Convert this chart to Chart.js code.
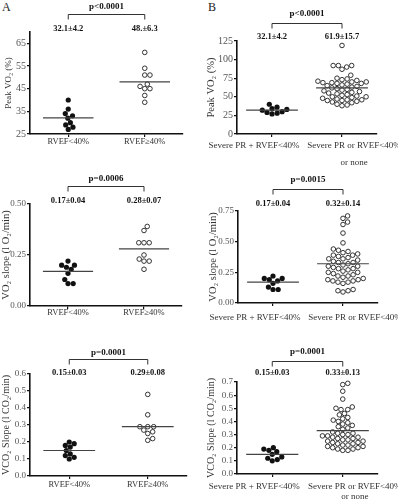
<!DOCTYPE html>
<html>
<head>
<meta charset="utf-8">
<script src="https://cdn.jsdelivr.net/npm/chart.js@4.4.0/dist/chart.umd.min.js"></script>
<style>
  body { margin: 0; background: #fff; }
  #wrap { position: relative; width: 398px; height: 500px; overflow: hidden; }
  #wrap canvas { position: absolute; }
  .letter { position: absolute; font: 12px "Liberation Serif", serif; color: #222; line-height: 12px; }
</style>
</head>
<body>
<div id="wrap">
  <div class="letter" style="left:2px;top:1px">A</div>
  <div class="letter" style="left:208px;top:1px">B</div>
</div>
<script>
// Gruppen (x-Kategorien)
const catsA = ['RVEF<40%', 'RVEF≥40%'];
const catsB = [['Severe PR + RVEF<40%'], ['Severe PR or RVEF<40%', 'or none']];

// Peak VO2 (%)
const peakLowA = [40, 36, 34, 33, 32, 30, 29, 28, 27];
const peakHighA = [61, 54, 51, 51, 47, 46, 45, 45, 42, 39];
const peakMeanA = [32.1, 48.0];
const peakTextA = ['32.1±4.2', '48.±6.3'];
const peakTicksA = [25, 35, 45, 55, 65];

const peakLowB = [40, 36, 34, 33, 32, 30, 29, 28, 27];
const peakHighB = [119, 92, 92, 90, 92, 87, 79, 75, 74, 73, 72, 71, 70, 70, 69, 69, 68, 68, 67, 66,
  65, 64, 63, 62, 61, 60, 59, 58, 57, 56, 55, 54, 53, 52, 51, 50, 50, 49, 48, 47,
  46, 46, 45, 45, 44, 43, 42, 40, 39, 38];
const peakMeanB = [32.1, 61.9];
const peakTextB = ['32.1±4.2', '61.9±15.7'];
const peakTicksB = [0, 25, 50, 75, 100, 125];

// VO2 slope (l O2/min)
const vo2LowA = [0.22, 0.20, 0.20, 0.19, 0.18, 0.16, 0.13, 0.11, 0.11];
const vo2HighA = [0.39, 0.37, 0.31, 0.31, 0.31, 0.25, 0.23, 0.22, 0.22, 0.18];
const vo2MeanA = [0.17, 0.28];
const vo2TextA = ['0.17±0.04', '0.28±0.07'];
const vo2TicksA = [0, 0.25, 0.5];

const vo2LowB = [0.22, 0.20, 0.20, 0.19, 0.18, 0.16, 0.13, 0.11, 0.11];
const vo2HighB = [0.71, 0.69, 0.66, 0.64, 0.57, 0.49, 0.44, 0.43, 0.42, 0.41, 0.40, 0.39, 0.39, 0.38,
  0.37, 0.36, 0.36, 0.35, 0.34, 0.33, 0.33, 0.32, 0.31, 0.30, 0.30, 0.29, 0.28, 0.28, 0.27, 0.26,
  0.25, 0.25, 0.24, 0.23, 0.22, 0.22, 0.21, 0.20, 0.19, 0.19, 0.18, 0.18, 0.17, 0.17, 0.16,
  0.11, 0.10, 0.10, 0.09];
const vo2MeanB = [0.17, 0.32];
const vo2TextB = ['0.17±0.04', '0.32±0.14'];
const vo2TicksB = [0, 0.25, 0.5, 0.75];

// VCO2 slope (l CO2/min)
const vco2LowA = [0.20, 0.19, 0.18, 0.17, 0.15, 0.13, 0.12, 0.11, 0.10];
const vco2HighA = [0.48, 0.36, 0.29, 0.29, 0.29, 0.27, 0.26, 0.25, 0.22, 0.21];
const vco2MeanA = [0.15, 0.29];
const vco2TextA = ['0.15±0.03', '0.29±0.08'];
const vco2TicksA = [0, 0.1, 0.2, 0.3, 0.4, 0.5, 0.6];

const vco2LowB = [0.20, 0.19, 0.18, 0.17, 0.15, 0.13, 0.12, 0.11, 0.10];
const vco2HighB = [0.69, 0.68, 0.63, 0.57, 0.51, 0.50, 0.49, 0.49, 0.46, 0.45, 0.43, 0.42, 0.41,
  0.40, 0.39, 0.38, 0.37, 0.36, 0.35, 0.34, 0.32, 0.31, 0.31, 0.30, 0.30, 0.29, 0.29, 0.28, 0.28,
  0.27, 0.27, 0.26, 0.26, 0.25, 0.25, 0.24, 0.24, 0.23, 0.23, 0.22, 0.22, 0.21, 0.21, 0.20, 0.20,
  0.19, 0.19, 0.18, 0.18];
const vco2MeanB = [0.15, 0.33];
const vco2TextB = ['0.15±0.03', '0.33±0.13'];
const vco2TicksB = [0, 0.1, 0.2, 0.3, 0.4, 0.5, 0.6, 0.7];

const pValues = ['p<0.0001', 'p=0.0006', 'p=0.0001', 'p<0.0001', 'p=0.0015', 'p=0.0001'];

const SERIF = '"Liberation Serif", "Times New Roman", serif';
const DIAM = 5.2;

// Panels: box = Canvas [x, y, w, h], area = Plotfläche [left, top, right, bottom] (Seitenkoordinaten)
const panels = [
  { box: [0, 0, 198, 165], area: [30, 32, 183, 134], yMin: 25, yMax: 70, ticks: peakTicksA, dec: 0,
    title: 'Peak VO₂ (%)', titleX: 9, titleSize: 9, tickSize: 10,
    low: peakLowA, high: peakHighA, means: peakMeanA, texts: peakTextA, p: pValues[0], cats: catsA,
    pOff: -25, brOff: -18, lblOff: -3, catOff: 8, catGap: 0, catShift: [0, 0], catSize: 8.5, meanHalf: 0.33 },
  { box: [198, 0, 200, 165], area: [237, 41, 377, 134], yMin: 0, yMax: 125, ticks: peakTicksB, dec: 0,
    title: 'Peak VO₂ (%)', titleX: 211, titleSize: 10.5, tickSize: 10,
    low: peakLowB, high: peakHighB, means: peakMeanB, texts: peakTextB, p: pValues[3], cats: catsB,
    pOff: -27, brOff: -18, lblOff: -4, catOff: 12, catGap: 17, catShift: [-18, 12], catSize: 9, meanHalf: 0.37 },
  { box: [0, 165, 198, 165], area: [30, 204, 182, 306], yMin: 0, yMax: 0.5, ticks: vo2TicksA, dec: 2,
    title: 'VO₂ slope (l O₂/min)', titleX: 6, titleSize: 10.5, tickSize: 9,
    low: vo2LowA, high: vo2HighA, means: vo2MeanA, texts: vo2TextA, p: pValues[1], cats: catsA,
    pOff: -25, brOff: -18, lblOff: -3, catOff: 7, catGap: 0, catShift: [0, 0], catSize: 8.5, meanHalf: 0.33 },
  { box: [198, 165, 200, 165], area: [238, 211, 378, 303], yMin: 0, yMax: 0.75, ticks: vo2TicksB, dec: 2,
    title: 'VO₂ slope (l O₂/min)', titleX: 213, titleSize: 10.5, tickSize: 9,
    low: vo2LowB, high: vo2HighB, means: vo2MeanB, texts: vo2TextB, p: pValues[4], cats: catsB,
    pOff: -31, brOff: -22, lblOff: -7, catOff: 15, catGap: 18, catShift: [-18, 12], catSize: 9, meanHalf: 0.37 },
  { box: [0, 330, 198, 170], area: [30, 374, 187, 476], yMin: 0, yMax: 0.6, ticks: vco2TicksA, dec: 1,
    title: 'VCO₂ Slope (l CO₂/min)', titleX: 6, titleSize: 10, tickSize: 9,
    low: vco2LowA, high: vco2HighA, means: vco2MeanA, texts: vco2TextA, p: pValues[2], cats: catsA,
    pOff: -21, brOff: -15, lblOff: -1, catOff: 9, catGap: 0, catShift: [0, 0], catSize: 8.5, meanHalf: 0.33 },
  { box: [198, 330, 200, 170], area: [237, 382, 378, 474], yMin: 0, yMax: 0.7, ticks: vco2TicksB, dec: 1,
    title: 'VCO₂ Slope (l CO₂/min)', titleX: 211, titleSize: 10, tickSize: 9,
    low: vco2LowB, high: vco2HighB, means: vco2MeanB, texts: vco2TextB, p: pValues[5], cats: catsB,
    pOff: -30, brOff: -21, lblOff: -9, catOff: 13, catGap: 10, catShift: [-18, 12], catSize: 9, meanHalf: 0.37 }
];

// einfacher Beeswarm: Punkte nach Wert sortiert, seitlich ausweichen bis keine Überlappung
function swarm(values, center, pxX, pxY) {
  const placed = [];
  values.slice().sort((a, b) => a - b).forEach(v => {
    const py = v * pxY;
    const cands = [0];
    placed.forEach(p => {
      const dy = Math.abs(p.py - py);
      if (dy < DIAM) {
        const dx = Math.sqrt(DIAM * DIAM - dy * dy);
        cands.push(p.px + dx, p.px - dx);
      }
    });
    cands.sort((a, b) => Math.abs(a) - Math.abs(b));
    const px = cands.find(c => placed.every(p => Math.hypot(p.px - c, p.py - py) >= DIAM - 0.01));
    placed.push({ px, py, v });
  });
  return placed.map(p => ({ x: center + p.px / pxX, y: p.v }));
}

function drawAnnot(chart, pn) {
  const { ctx, chartArea, scales } = chart;
  const x1 = scales.x.getPixelForValue(0.5);
  const x2 = scales.x.getPixelForValue(1.5);
  const top = chartArea.top;
  ctx.save();
  ctx.strokeStyle = '#333';
  ctx.lineWidth = 1;
  const yb = Math.round(top + pn.brOff) + 0.5;
  ctx.beginPath();
  ctx.moveTo(x1, yb + 5);
  ctx.lineTo(x1, yb);
  ctx.lineTo(x2, yb);
  ctx.lineTo(x2, yb + 5);
  ctx.stroke();

  ctx.textAlign = 'center';
  ctx.textBaseline = 'middle';
  ctx.fillStyle = '#111';
  ctx.font = `bold 9px ${SERIF}`;
  ctx.fillText(pn.p, (x1 + x2) / 2, top + pn.pOff);
  ctx.font = `bold 8.5px ${SERIF}`;
  ctx.fillText(pn.texts[0], x1, top + pn.lblOff);
  ctx.fillText(pn.texts[1], x2, top + pn.lblOff);

  ctx.fillStyle = '#333';
  ctx.font = `${pn.catSize}px ${SERIF}`;
  pn.cats.forEach((lines, i) => {
    const cx = (i ? x2 : x1) + pn.catShift[i];
    [].concat(lines).forEach((t, k) => {
      ctx.fillText(t, cx, chartArea.bottom + pn.catOff + k * pn.catGap);
    });
  });
  ctx.restore();
}

const wrap = document.getElementById('wrap');

panels.forEach(pn => {
  const [bx, by, bw, bh] = pn.box;
  const [al, at, ar, ab] = pn.area;
  const canvas = document.createElement('canvas');
  canvas.width = bw;
  canvas.height = bh;
  canvas.style.left = bx + 'px';
  canvas.style.top = by + 'px';
  canvas.style.width = bw + 'px';
  canvas.style.height = bh + 'px';
  wrap.appendChild(canvas);

  const yW = al - bx;
  const xH = by + bh - ab;
  const pxX = (ar - al) / 2;
  const pxY = (ab - at) / (pn.yMax - pn.yMin);
  const titlePad = Math.max(0, pn.titleX - bx - pn.titleSize * 0.6);
  const h = pn.meanHalf;

  new Chart(canvas, {
    type: 'scatter',
    data: {
      datasets: [
        { type: 'line', data: [{ x: 0.5 - h, y: pn.means[0] }, { x: 0.5 + h, y: pn.means[0] }],
          borderColor: '#444', borderWidth: 1.2, pointRadius: 0 },
        { type: 'line', data: [{ x: 1.5 - h, y: pn.means[1] }, { x: 1.5 + h, y: pn.means[1] }],
          borderColor: '#444', borderWidth: 1.2, pointRadius: 0 },
        { data: swarm(pn.low, 0.5, pxX, pxY), pointRadius: 2.6, backgroundColor: '#111',
          borderColor: '#111', borderWidth: 0, clip: false },
        { data: swarm(pn.high, 1.5, pxX, pxY), pointRadius: 2.3, backgroundColor: '#fff',
          borderColor: '#333', borderWidth: 1, clip: false }
      ]
    },
    options: {
      responsive: false,
      animation: false,
      events: [],
      layout: { padding: { left: 0, top: at - by, right: bx + bw - ar, bottom: 0 } },
      plugins: { legend: { display: false }, tooltip: { enabled: false } },
      scales: {
        x: {
          type: 'linear', min: 0, max: 2,
          afterBuildTicks: s => { s.ticks = [{ value: 0.5 }, { value: 1.5 }]; },
          afterFit: s => { s.height = xH; s.paddingLeft = 0; s.paddingRight = 0; },
          ticks: { display: false },
          grid: { display: true, drawOnChartArea: false, drawTicks: true, tickLength: 3, color: '#111', lineWidth: 1.2 },
          border: { display: true, color: '#111', width: 1.6 }
        },
        y: {
          min: pn.yMin, max: pn.yMax,
          afterBuildTicks: s => { s.ticks = pn.ticks.map(v => ({ value: v })); },
          afterFit: s => { s.width = yW; s.paddingTop = 0; s.paddingBottom = 0; },
          ticks: {
            padding: 1, color: '#555', autoSkip: false,
            font: { family: SERIF, size: pn.tickSize },
            callback: v => Number(v).toFixed(pn.dec)
          },
          grid: { display: true, drawOnChartArea: false, drawTicks: true, tickLength: 3, color: '#111', lineWidth: 1.2 },
          border: { display: true, color: '#111', width: 1.6 },
          title: {
            display: true, text: pn.title, color: '#333',
            font: { family: SERIF, size: pn.titleSize },
            padding: { top: titlePad, bottom: 0 }
          }
        }
      }
    },
    plugins: [{ id: 'annot', afterDraw: chart => drawAnnot(chart, pn) }]
  });
});
</script>
</body>
</html>
